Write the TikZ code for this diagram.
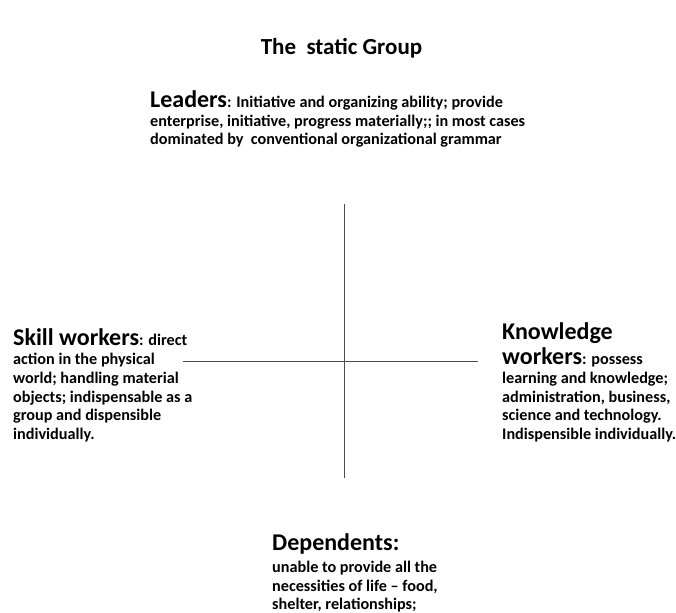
\documentclass[tikz,border=0pt]{standalone}
\usepackage{fontspec}
\setmainfont{Carlito}
\newcommand{\bigword}[1]{{\fontsize{24}{24}\selectfont #1}}
\begin{document}
\begin{tikzpicture}[x=1pt,y=-1pt,
  ln/.style={anchor=base west, inner sep=0pt, font=\bfseries\fontsize{16.2}{19}\selectfont},
  ttl/.style={anchor=base, inner sep=0pt, font=\bfseries\fontsize{23}{26}\selectfont},
  axis/.style={draw=black!70, line width=0.8pt}]
\useasboundingbox (0,0) rectangle (676,612);
\node[ttl] (title) at (341.5,55) {The\ \ static Group};
% Leaders
\node[ln] (l1) at (150,108) {\bigword{Leaders}: Initiative and organizing ability; provide};
\node[ln] (l2) at (150,127) {enterprise, initiative, progress materially;; in most cases};
\node[ln] (l3) at (150,145) {dominated by\ \ conventional organizational grammar};
% Skill workers
\node[ln] (s1) at (13,345) {\bigword{Skill workers}: direct};
\node[ln] (s2) at (13,364) {action in the physical};
\node[ln] (s3) at (13,383) {world; handling material};
\node[ln] (s4) at (13,402) {objects; indispensable as a};
\node[ln] (s5) at (13,420) {group and dispensible};
\node[ln] (s6) at (13,439) {individually.};
% Knowledge workers
\node[ln] (k1) at (502,339) {\bigword{Knowledge}};
\node[ln] (k2) at (502,364) {\bigword{workers}: possess};
\node[ln] (k3) at (502,383) {learning and knowledge;};
\node[ln] (k4) at (502,402) {administration, business,};
\node[ln] (k5) at (502,420) {science and technology.};
\node[ln] (k6) at (502,439) {Indispensible individually.};
% Dependents
\node[ln] (d1) at (272,550) {\bigword{Dependents:}};
\node[ln] (d2) at (272,572) {unable to provide all the};
\node[ln] (d3) at (272,591) {necessities of life -- food,};
\node[ln] (d4) at (272,609) {shelter, relationships;};
% axes
\coordinate (vtop) at (344.5,204);
\coordinate (vbot) at (344.5,478);
\coordinate (hleft) at (183,361);
\coordinate (hright) at (478,361);
\draw[axis] (vtop) -- (vbot);
\draw[axis] (hleft) -- (hright);
\end{tikzpicture}
\end{document}
